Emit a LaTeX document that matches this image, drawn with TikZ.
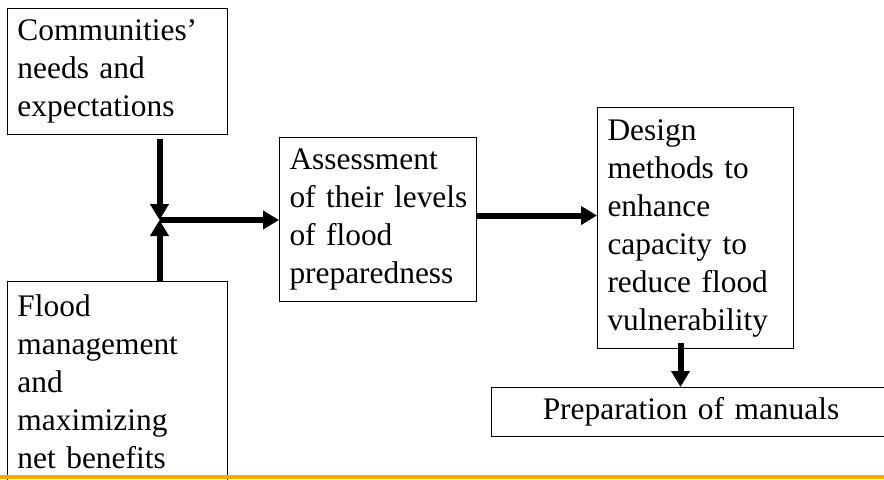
\documentclass[tikz,border=0pt]{standalone}
\usepackage{fontspec}
\setmainfont{Liberation Serif}
\usepackage{xcolor}
\usetikzlibrary{arrows.meta,calc,positioning}
\definecolor{barorange}{RGB}{255,168,0}

\begin{document}
\begin{tikzpicture}
 [x=0.5pt,y=-0.5pt,
box/.style={draw,line width=0.5pt,anchor=north west,align=left,
inner xsep=5pt,inner ysep=0pt,font=\fontsize{15.7pt}{19pt}\selectfont},
arr/.style={-{Triangle[length=8pt,width=9pt]},line width=3pt}]
\useasboundingbox (0,0) rectangle (884,479);
\clip (0,0) rectangle (884,479);

\node (comm) at (7,8)[box,text width=100pt,minimum height=63pt]
 {Communities'\\needs and\\expectations};
\node (flood) at (7,281)[box,text width=100pt,minimum height=100pt]
 {Flood\\management\\and\\maximizing\\net benefits};
\node (assess) at (279,137)[box,text width=88.5pt,minimum height=82pt]
 {Assessment\\\mbox{of their levels}\\of flood\\preparedness};
\node (design) at (597,107)[box,text width=88pt,minimum height=120.5pt]
 {Design\\methods to\\enhance\\capacity to\\reduce flood\\vulnerability};
\node (manuals) at (491,387)[box,align=center,text width=189.5pt,minimum height=24.5pt]
 {Preparation of manuals};

\coordinate (j) at (159.5,220);

\draw[arr,shorten <=2pt] (comm.south -| j) -- (j);
\draw[arr] (flood.north -| j) -- (j);
\draw[arr] (j) -- (assess.west |- j);
\draw[arr] ([yshift=2pt]assess.east) -- ([yshift=2pt]assess.east -| design.west);
\draw[arr] ([xshift=-7.5pt,yshift=3pt]design.south) -- ([xshift=-7.5pt]design.south |- manuals.north);

\fill[barorange] (0,475) rectangle (884,479);
\end{tikzpicture}
\end{document}
